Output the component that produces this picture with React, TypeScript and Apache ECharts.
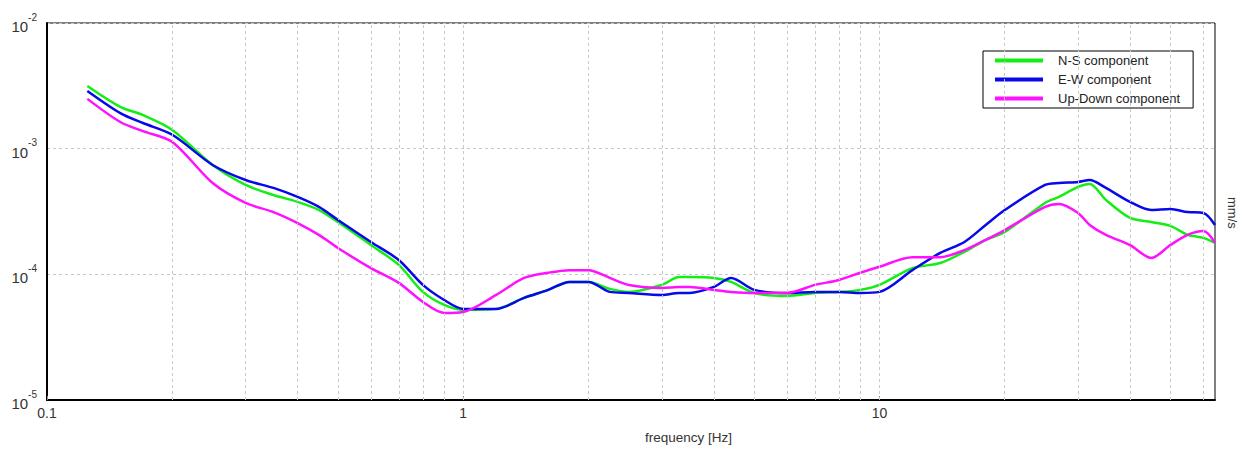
import React, { useEffect, useRef } from "react";
import * as echarts from "echarts";

const freqHz = [0.125, 0.15, 0.17, 0.2, 0.25, 0.3, 0.35, 0.4, 0.45, 0.5, 0.6, 0.7, 0.8, 0.9, 1.0, 1.2, 1.4, 1.6, 1.8, 2.0, 2.25, 2.5, 3.0, 3.3, 3.5, 4.0, 4.4, 5, 6, 7, 8, 9, 10, 12, 14, 16, 18, 20, 25, 27, 30, 32, 35, 40, 45, 50, 55, 60, 64];

const nsValues = [3.15e-3, 2.15e-3, 1.85e-3, 1.41e-3, 7.4e-4, 5.14e-4, 4.28e-4, 3.77e-4, 3.25e-4, 2.61e-4, 1.71e-4, 1.19e-4, 7.25e-5, 5.71e-5, 5.21e-5, 5.31e-5, 6.49e-5, 7.52e-5, 8.7e-5, 8.7e-5, 7.66e-5, 7.25e-5, 8.24e-5, 9.53e-5, 9.53e-5, 9.36e-5, 8.7e-5, 7.11e-5, 6.73e-5, 7.11e-5, 7.25e-5, 7.52e-5, 8.24e-5, 1.12e-4, 1.23e-4, 1.51e-4, 1.88e-4, 2.17e-4, 3.7e-4, 4.13e-4, 4.96e-4, 5.24e-4, 3.91e-4, 2.81e-4, 2.61e-4, 2.43e-4, 2.06e-4, 1.95e-4, 1.78e-4];

const ewValues = [2.88e-3, 1.92e-3, 1.6e-3, 1.29e-3, 7.42e-4, 5.63e-4, 4.87e-4, 4.13e-4, 3.44e-4, 2.71e-4, 1.81e-4, 1.3e-4, 8.24e-5, 6.25e-5, 5.31e-5, 5.31e-5, 6.49e-5, 7.52e-5, 8.7e-5, 8.7e-5, 7.25e-5, 7.11e-5, 6.86e-5, 7.11e-5, 7.11e-5, 7.94e-5, 9.36e-5, 7.52e-5, 7.11e-5, 7.25e-5, 7.25e-5, 7.11e-5, 7.25e-5, 1.08e-4, 1.48e-4, 1.81e-4, 2.47e-4, 3.25e-4, 5.14e-4, 5.33e-4, 5.43e-4, 5.63e-4, 4.87e-4, 3.77e-4, 3.25e-4, 3.31e-4, 3.13e-4, 3.08e-4, 2.47e-4];

const udValues = [2.49e-3, 1.63e-3, 1.38e-3, 1.13e-3, 5.33e-4, 3.7e-4, 3.13e-4, 2.56e-4, 2.06e-4, 1.62e-4, 1.12e-4, 8.55e-5, 6.03e-5, 4.93e-5, 5.02e-5, 6.86e-5, 9.36e-5, 1.03e-4, 1.08e-4, 1.08e-4, 9.36e-5, 8.24e-5, 7.8e-5, 7.94e-5, 7.94e-5, 7.52e-5, 7.25e-5, 7.11e-5, 7.11e-5, 8.24e-5, 9.02e-5, 1.03e-4, 1.15e-4, 1.37e-4, 1.37e-4, 1.56e-4, 1.88e-4, 2.25e-4, 3.44e-4, 3.63e-4, 3.08e-4, 2.47e-4, 2.06e-4, 1.71e-4, 1.35e-4, 1.71e-4, 2.06e-4, 2.21e-4, 1.78e-4];

const seriesNames = ["N-S component", "E-W component", "Up-Down component"];
const seriesColors = ["#14ee14", "#0808e8", "#ff10ff"];
const gridFreqs = [0.2, 0.3, 0.4, 0.5, 0.6, 0.7, 0.8, 0.9, 1, 2, 3, 4, 5, 6, 7, 8, 9, 10, 20, 30, 40, 50, 60];
const xLabelText: Record<string, string> = { "-1": "0.1", "0": "1", "1": "10" };

const isPow10 = (v: number) => {
  const l = Math.log10(v);
  return Math.abs(l - Math.round(l)) < 1e-6;
};

export default function App() {
  const ref = useRef<HTMLDivElement>(null);
  useEffect(() => {
    if (!ref.current) return;
    const chart = echarts.init(ref.current, null, { renderer: "svg" });
    const allValues = [nsValues, ewValues, udValues];
    const option: any = {
      animation: false,
      backgroundColor: "#ffffff",
      textStyle: { fontFamily: "Liberation Sans, Arial, sans-serif" },
      grid: {
        left: 47,
        right: 25,
        top: 23,
        bottom: 51,
        show: true,
        borderColor: "#000",
        borderWidth: 1,
        backgroundColor: "transparent",
      },
      legend: {
        orient: "vertical",
        left: 983,
        top: 51,
        width: 210,
        padding: [2, 13, 2, 12],
        backgroundColor: "#fff",
        borderColor: "#000",
        borderWidth: 1,
        borderRadius: 0,
        itemWidth: 48,
        itemHeight: 4,
        itemGap: 4,
        icon: "rect",
        data: seriesNames,
        textStyle: {
          fontSize: 13,
          color: "#222",
          lineHeight: 15,
          padding: [0, 0, 0, 10],
          fontFamily: "Liberation Sans, Arial, sans-serif",
        },
      },
      xAxis: {
        type: "log",
        logBase: 10,
        min: 0.1,
        max: 64,
        axisLine: { show: true, lineStyle: { color: "#000", width: 2 } },
        axisTick: { show: true, inside: true, length: 4, lineStyle: { color: "#888" } },
        splitLine: { show: false },
        axisLabel: {
          fontSize: 14,
          color: "#333",
          margin: 6,
          showMaxLabel: false,
          formatter: (v: number) => (isPow10(v) ? xLabelText[String(Math.round(Math.log10(v)))] ?? "" : ""),
        },
      },
      yAxis: {
        type: "log",
        logBase: 10,
        min: 1e-5,
        max: 1e-2,
        axisLine: { show: true, lineStyle: { color: "#000", width: 2 } },
        axisTick: { show: false },
        splitLine: { show: true, lineStyle: { color: "#c8c8c8", type: [3, 3], width: 1 } },
        axisLabel: {
          margin: 10,
          color: "#333",
          formatter: (v: number) => `{b|10}{s|${Math.round(Math.log10(v))}}`,
          rich: {
            b: { fontSize: 15, color: "#333", verticalAlign: "bottom", lineHeight: 22 },
            s: { fontSize: 10, color: "#333", verticalAlign: "top", lineHeight: 22, padding: [0, 0, 10, 0] },
          },
        },
      },
      graphic: [
        {
          type: "text",
          left: 690 - 45,
          top: 430,
          style: { text: "frequency [Hz]", fill: "#333", font: "13.5px Liberation Sans, Arial, sans-serif" },
        },
        {
          type: "text",
          x: 1239,
          y: 197,
          rotation: -Math.PI / 2,
          style: { text: "mm/s", fill: "#333", font: "13px Liberation Sans, Arial, sans-serif", align: "left", verticalAlign: "top" },
        },
      ],
      series: [
        {
          type: "line",
          name: "grid",
          data: [],
          z: 1,
          silent: true,
          markLine: {
            silent: true,
            symbol: "none",
            label: { show: false },
            lineStyle: { color: "#c8c8c8", type: [3, 3], width: 1 },
            data: gridFreqs.map((f) => ({ xAxis: f })),
          },
        },
        ...seriesNames.map((name, i) => ({
          type: "line",
          name,
          z: 3,
          showSymbol: false,
          smooth: 0.3,
          lineStyle: { color: seriesColors[i], width: 2.5 },
          itemStyle: { color: seriesColors[i] },
          data: freqHz.map((f, j) => [f, allValues[i][j]]),
        })),
      ],
    };
    chart.setOption(option);
    return () => chart.dispose();
  }, []);
  return (
    <div
      ref={ref}
      style={{ position: "fixed", left: 0, top: 0, width: 1240, height: 451, background: "#fff" }}
    />
  );
}
